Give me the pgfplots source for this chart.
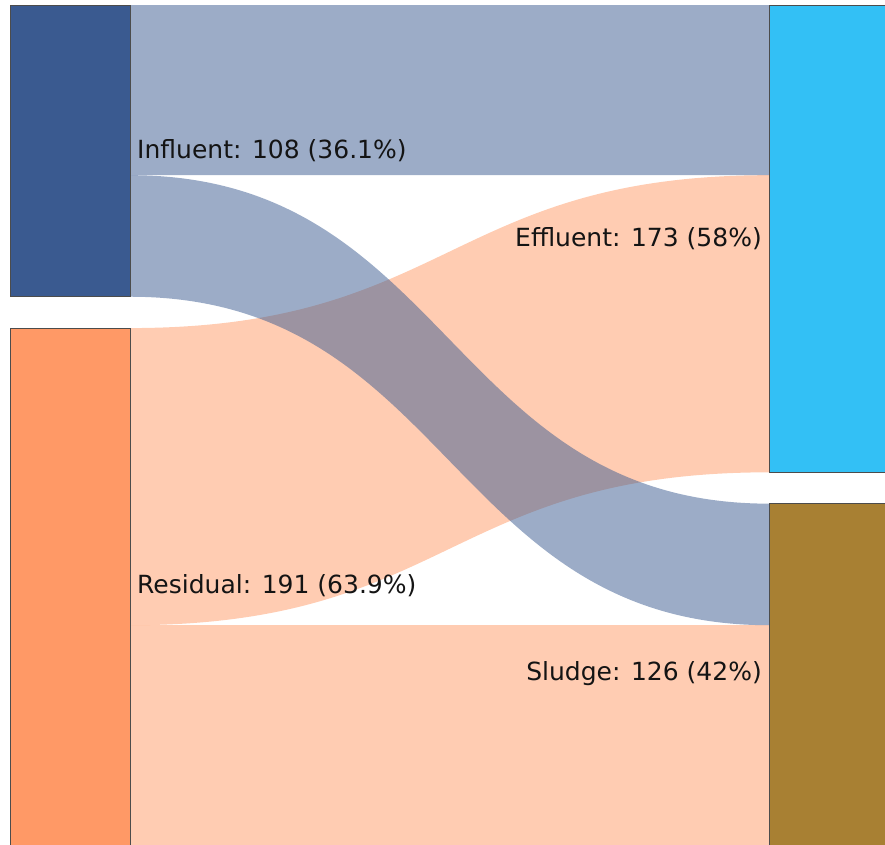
\documentclass[border=0pt]{standalone}
\usepackage{pgfplots}
\pgfplotsset{compat=1.18}
\usepackage{fontspec}
\setmainfont{DejaVu Sans}
\definecolor{cInf}{HTML}{3A5A90}
\definecolor{cRes}{HTML}{FF9966}
\definecolor{cEff}{HTML}{33C0F5}
\definecolor{cSlu}{HTML}{A88033}
\begin{document}
\begin{tikzpicture}
\begin{axis}[scale only axis, width=885pt, height=844pt,
  xmin=0, xmax=885, ymin=-1.85, ymax=310.6, y dir=reverse,
  hide axis, clip=true]
% flows (values: Influent->Effluent 63, Influent->Sludge 45, Residual->Effluent 110, Residual->Sludge 81; node gap 11.6)
% Residual -> Effluent
\fill[cRes, fill opacity=0.5] (axis cs:130,119.6) .. controls (axis cs:449.5,119.6) and (axis cs:449.5,63) .. (axis cs:769,63)
  -- (axis cs:769,173) .. controls (axis cs:449.5,173) and (axis cs:449.5,229.6) .. (axis cs:130,229.6) -- cycle;
% Residual -> Sludge
\fill[cRes, fill opacity=0.5] (axis cs:130,229.6) .. controls (axis cs:449.5,229.6) and (axis cs:449.5,229.6) .. (axis cs:769,229.6)
  -- (axis cs:769,312) -- (axis cs:130,312) -- cycle;
% Influent -> Effluent
\fill[cInf, fill opacity=0.5] (axis cs:130,0) -- (axis cs:769,0)
  -- (axis cs:769,63) .. controls (axis cs:449.5,63) and (axis cs:449.5,63) .. (axis cs:130,63) -- cycle;
% Influent -> Sludge
\fill[cInf, fill opacity=0.5] (axis cs:130,63) .. controls (axis cs:449.5,63) and (axis cs:449.5,184.6) .. (axis cs:769,184.6)
  -- (axis cs:769,229.6) .. controls (axis cs:449.5,229.6) and (axis cs:449.5,108) .. (axis cs:130,108) -- cycle;
% nodes
\addplot[fill=cInf, draw=black!70, line width=0.6pt] coordinates {(10,0) (130,0) (130,108) (10,108)} -- cycle;
\addplot[fill=cRes, draw=black!70, line width=0.6pt] coordinates {(10,119.6) (130,119.6) (130,313) (10,313)} -- cycle;
\addplot[fill=cEff, draw=black!70, line width=0.6pt] coordinates {(769,0) (890,0) (890,173) (769,173)} -- cycle;
\addplot[fill=cSlu, draw=black!70, line width=0.6pt] coordinates {(769,184.6) (890,184.6) (890,313) (769,313)} -- cycle;
% labels
\node[anchor=west, inner sep=0pt, font=\fontsize{25}{30}\selectfont, text=black!92] at (axis cs:137,54) {Influent: 108 (36.1\%)};
\node[anchor=west, inner sep=0pt, font=\fontsize{25}{30}\selectfont, text=black!92] at (axis cs:137,215.1) {Residual: 191 (63.9\%)};
\node[anchor=east, inner sep=0pt, font=\fontsize{25}{30}\selectfont, text=black!92] at (axis cs:762,86.5) {Effluent: 173 (58\%)};
\node[anchor=east, inner sep=0pt, font=\fontsize{25}{30}\selectfont, text=black!92] at (axis cs:762,247.6) {Sludge: 126 (42\%)};
\end{axis}
\path[use as bounding box] (current axis.south west) rectangle (current axis.north east);
\end{tikzpicture}
\end{document}
